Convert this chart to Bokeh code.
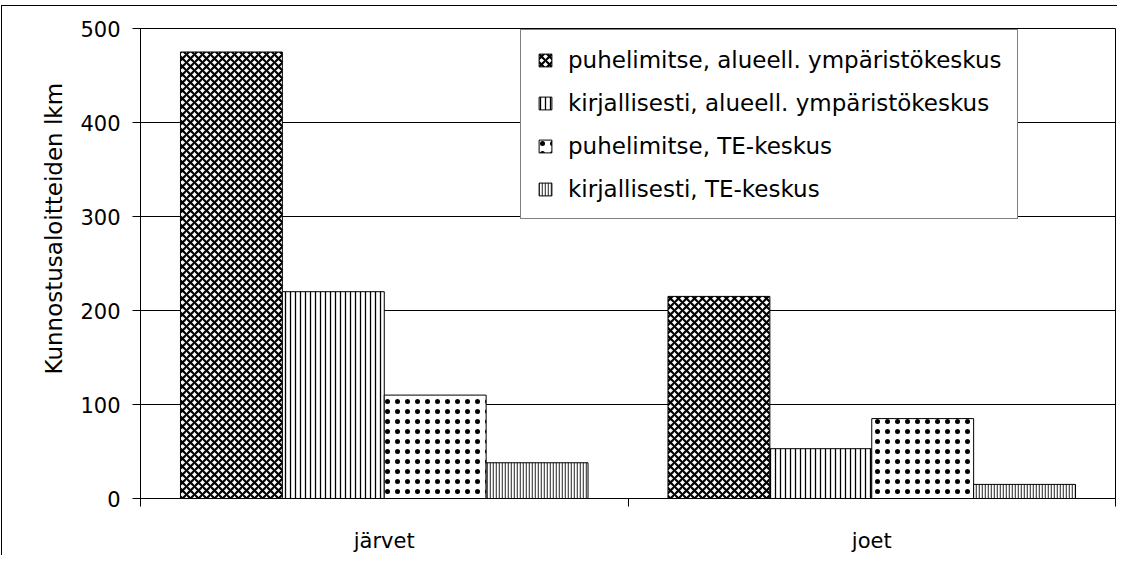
from bokeh.plotting import figure
from bokeh.layouts import column
from bokeh.models import (Range1d, FixedTicker, Legend, LegendItem, LinearAxis, Title)
from bokeh.embed import file_html
from bokeh.resources import INLINE

categories = ["järvet", "joet"]
series = [
    "puhelimitse, alueell. ympäristökeskus",
    "kirjallisesti, alueell. ympäristökeskus",
    "puhelimitse, TE-keskus",
    "kirjallisesti, TE-keskus",
]
values_puh_aly = [475, 215]
values_kir_aly = [220, 53]
values_puh_te = [110, 85]
values_kir_te = [38, 15]
y_ticks = [0, 100, 200, 300, 400, 500]
y_title = "Kunnostusaloitteiden lkm"

all_values = [values_puh_aly, values_kir_aly, values_puh_te, values_kir_te]
offsets = [-0.3135, -0.1045, 0.1045, 0.3135]
bar_w = 0.209

styles = [
    dict(hatch_pattern="diagonal_cross", hatch_scale=8, hatch_weight=2.2, hatch_color="black"),
    dict(hatch_pattern="vertical_line", hatch_scale=5, hatch_weight=1.3, hatch_color="black"),
    dict(hatch_pattern="dot", hatch_scale=10, hatch_weight=7, hatch_color="black"),
    dict(hatch_pattern="vertical_line", hatch_scale=3, hatch_weight=1.6, hatch_color="#555555"),
]

FONT = "DejaVu Sans"

p = figure(width=1115, height=549, output_backend="svg", toolbar_location=None,
           x_range=Range1d(0, 2), y_range=Range1d(0, 500),
           min_border_left=138, min_border_right=2, min_border_top=22, min_border_bottom=52,
           x_axis_type=None)
p.outline_line_color = "black"
p.outline_line_width = 1
p.background_fill_color = "white"
p.border_fill_color = "white"

# y axis
p.yaxis.ticker = FixedTicker(ticks=y_ticks)
p.yaxis.minor_tick_line_color = None
p.yaxis.major_tick_in = 0
p.yaxis.major_tick_out = 8
p.yaxis.axis_line_color = "black"
p.yaxis.major_tick_line_color = "black"
p.yaxis.major_label_text_font = FONT
p.yaxis.major_label_text_font_size = "21px"
p.yaxis.major_label_text_color = "black"
p.yaxis.major_label_standoff = 12

p.ygrid.ticker = FixedTicker(ticks=y_ticks)
p.ygrid.grid_line_color = "black"
p.ygrid.grid_line_width = 1
p.xgrid.grid_line_color = None

# y title, placed a little above the frame centre as in the reference
ytitle = Title(text=y_title, align="left", offset=124, standoff=22,
               text_font=FONT, text_font_size="23px", text_font_style="normal",
               text_color="black")
p.add_layout(ytitle, "left")

xa = LinearAxis(ticker=FixedTicker(ticks=[0.5, 1.5], minor_ticks=[0, 1, 2]))
xa.major_label_overrides = {0.5: categories[0], 1.5: categories[1]}
xa.major_tick_out = 0
xa.major_tick_in = 0
xa.minor_tick_out = 8
xa.minor_tick_in = 0
xa.minor_tick_line_color = "black"
xa.axis_line_color = "black"
xa.major_label_text_font = FONT
xa.major_label_text_font_size = "21px"
xa.major_label_text_color = "black"
xa.major_label_standoff = 22
p.add_layout(xa, "below")

items = []
for vals, off, st, name in zip(all_values, offsets, styles, series):
    xs = [i + 0.5 + off for i in range(len(categories))]
    r = p.vbar(x=xs, top=vals, width=bar_w, bottom=0, fill_color="white",
               line_color="black", line_width=1, **st)
    items.append(LegendItem(label=name, renderers=[r]))

legend = Legend(items=items, location=(380, 279))
legend.label_text_font = FONT
legend.label_text_font_size = "23px"
legend.label_text_color = "black"
legend.glyph_width = 16
legend.glyph_height = 16
legend.label_height = 27
legend.label_standoff = 15
legend.spacing = 16
legend.padding = 16
legend.margin = 0
legend.border_line_color = "black"
legend.border_line_width = 1
legend.background_fill_color = "white"
legend.background_fill_alpha = 1
p.add_layout(legend, "center")

page = column(p, styles={"border-left": "1px solid black", "border-top": "1px solid black",
                         "margin-left": "1px", "margin-top": "5px"})

open("out.html", "w").write(file_html(page, INLINE))
